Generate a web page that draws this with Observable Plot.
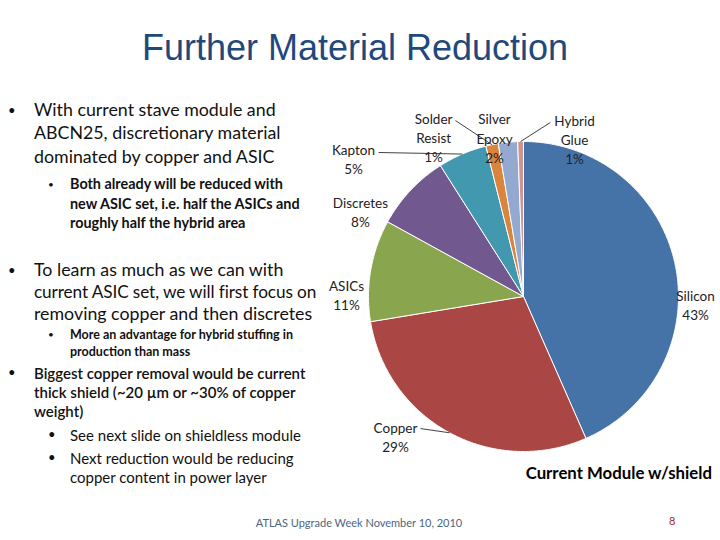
<!DOCTYPE html>
<html>
<head>
<meta charset="utf-8">
<script src="https://cdn.jsdelivr.net/npm/d3@7"></script>
<script src="https://cdn.jsdelivr.net/npm/@observablehq/plot@0.6"></script>
<style>
  html, body { margin: 0; padding: 0; background: #fff; }
  #slide { position: relative; width: 720px; height: 540px; overflow: hidden; background: #fff; }
  #slide svg { position: absolute; left: 0; top: 0; }
  .t { position: absolute; white-space: nowrap; font-family: Lato, "Noto Sans", sans-serif; color: #111; line-height: 1.2; }
  .title { font-family: "Liberation Sans", Arial, sans-serif; font-size: 36px; color: #1F497D; left: 0; width: 710px; text-align: center; }
  .b1 { font-size: 17.8px; }
  .b1n { font-size: 17.2px; letter-spacing: -0.1px; }
  .b2 { font-size: 14.4px; font-weight: 700; }
  .b3 { font-size: 12.5px; font-weight: 700; }
  .b4 { font-size: 15px; font-weight: 600; }
  .b5 { font-size: 15px; }
  .bul { font-size: 13px; }
  .sbul { font-size: 10px; }
</style>
</head>
<body>
<div id="slide"></div>
<script>
// ---- data ----
const names = ["Silicon", "Copper", "ASICs", "Discretes", "Kapton", "Solder Resist", "Silver Epoxy", "Hybrid Glue"];
const shares = [43.4, 29.0, 10.6, 8.0, 5.1, 1.3, 2.0, 0.6];
const pctLabels = ["43%", "29%", "11%", "8%", "5%", "1%", "2%", "1%"];
const labelNames = ["Silicon", "Copper", "ASICs", "Discretes", "Kapton", "Solder\nResist", "Silver\nEpoxy", "Hybrid\nGlue"];
const colors = ["#4572A7", "#AA4643", "#89A54E", "#71588F", "#4198AF", "#DB843D", "#93A9CF", "#D19392"];
const chartTitle = "Current Module w/shield";

// ---- layout (label anchors in pie-radius units) ----
const labelPos = [[1.11, -0.05], [-0.826, -0.9], [-1.142, 0.013], [-1.052, 0.548], [-1.097, 0.89], [-0.58, 1.032], [-0.187, 1.026], [0.329, 1.019]];
const leaderStart = [null, [-0.665, -0.852], null, null, [-0.935, 0.929], [-0.439, 1.135], null, [0.174, 1.123]];

const arcs = d3.pie().sort(null).value(d => d)(shares);
const pts = [];
arcs.forEach((a, i) => {
  const n = Math.max(2, Math.ceil((a.endAngle - a.startAngle) / (Math.PI / 360)));
  pts.push({name: names[i], color: colors[i], x: 0, y: 0});
  for (let k = 0; k <= n; k++) {
    const t = a.startAngle + (a.endAngle - a.startAngle) * k / n;
    pts.push({name: names[i], color: colors[i], x: Math.sin(t), y: Math.cos(t)});
  }
  pts.push({name: names[i], color: colors[i], x: 0, y: 0});
});

const labels = names.map((nm, i) => ({text: labelNames[i] + "\n" + pctLabels[i], x: labelPos[i][0], y: labelPos[i][1]}));
const leaders = [];
arcs.forEach((a, i) => {
  if (!leaderStart[i]) return;
  const m = (a.startAngle + a.endAngle) / 2;
  leaders.push({x1: leaderStart[i][0], y1: leaderStart[i][1], x2: Math.sin(m), y2: Math.cos(m)});
});

const chart = Plot.plot({
  width: 720, height: 540,
  marginLeft: 368, marginRight: 42, marginTop: 141, marginBottom: 89,
  x: {domain: [-1, 1], axis: null},
  y: {domain: [-1, 1], axis: null},
  color: {type: "identity"},
  style: {background: "transparent", fontFamily: "Lato, sans-serif", overflow: "visible"},
  marks: [
    Plot.line(pts, {x: "x", y: "y", z: "name", fill: "color", stroke: "white", strokeWidth: 1, strokeLinejoin: "round", curve: "linear"}),
    Plot.link(leaders, {x1: "x1", y1: "y1", x2: "x2", y2: "y2", stroke: "#111", strokeWidth: 0.8}),
    Plot.text(labels, {x: "x", y: "y", text: "text", fontSize: 13.5, lineHeight: 1.42, fill: "#222", textAnchor: "middle"}),
    Plot.text([chartTitle], {x: 0.615, y: -1.14, text: d => d, fontSize: 16.8, fontWeight: "bold", fill: "#000", textAnchor: "middle"})
  ]
});
const slide = document.getElementById("slide");
slide.appendChild(chart);

// ---- slide text ----
function line(cls, text, left, baseline, size) {
  const d = document.createElement("div");
  d.className = "t " + cls;
  d.textContent = text;
  d.style.left = left + "px";
  d.style.top = (baseline - size * 1.0) + "px";
  slide.appendChild(d);
}
const title = document.createElement("div");
title.className = "t title";
title.textContent = "Further Material Reduction";
title.style.top = (60 - 36 * 0.945) + "px";
slide.appendChild(title);

line("bul", "•", 8, 116, 13);
line("b1", "With current stave module and", 34, 117, 17.8);
line("b1", "ABCN25, discretionary material", 34, 140, 17.8);
line("b1", "dominated by copper and ASIC", 34, 164, 17.8);
line("sbul", "•", 48, 188, 10);
line("b2", "Both already will be reduced with", 70, 189, 14.4);
line("b2", "new ASIC set, i.e. half the ASICs and", 70, 209, 14.4);
line("b2", "roughly half the hybrid area", 70, 228, 14.4);

line("bul", "•", 8, 276, 13);
line("b1", "To learn as much as we can with", 34, 277, 17.8);
line("b1n", "current ASIC set, we will first focus on", 34, 299, 17.2);
line("b1", "removing copper and then discretes", 34, 321, 17.8);
line("sbul", "•", 48, 338, 10);
line("b3", "More an advantage for hybrid stuffing in", 70, 339, 12.5);
line("b3", "production than mass", 70, 356, 12.5);

line("bul", "•", 8, 378, 13);
line("b4", "Biggest copper removal would be current", 34, 379, 15);
line("b4", "thick shield (~20 \u00b5m or ~30% of copper", 34, 398, 15);
line("b4", "weight)", 34, 417, 15);
line("bul", "•", 48, 440, 13);
line("b5", "See next slide on shieldless module", 70, 441, 15);
line("bul", "•", 48, 463, 13);
line("b5", "Next reduction would be reducing", 70, 464, 15);
line("b5", "copper content in power layer", 70, 483, 15);

const foot = document.createElement("div");
foot.className = "t";
foot.textContent = "ATLAS Upgrade Week November 10, 2010";
foot.style.cssText = "left:0;width:718px;text-align:center;top:516px;font-size:11px;color:#4d6680;";
slide.appendChild(foot);
const pg = document.createElement("div");
pg.className = "t";
pg.textContent = "8";
pg.style.cssText = "left:669px;top:514px;font-size:11px;color:#a02838;";
slide.appendChild(pg);
</script>
</body>
</html>
